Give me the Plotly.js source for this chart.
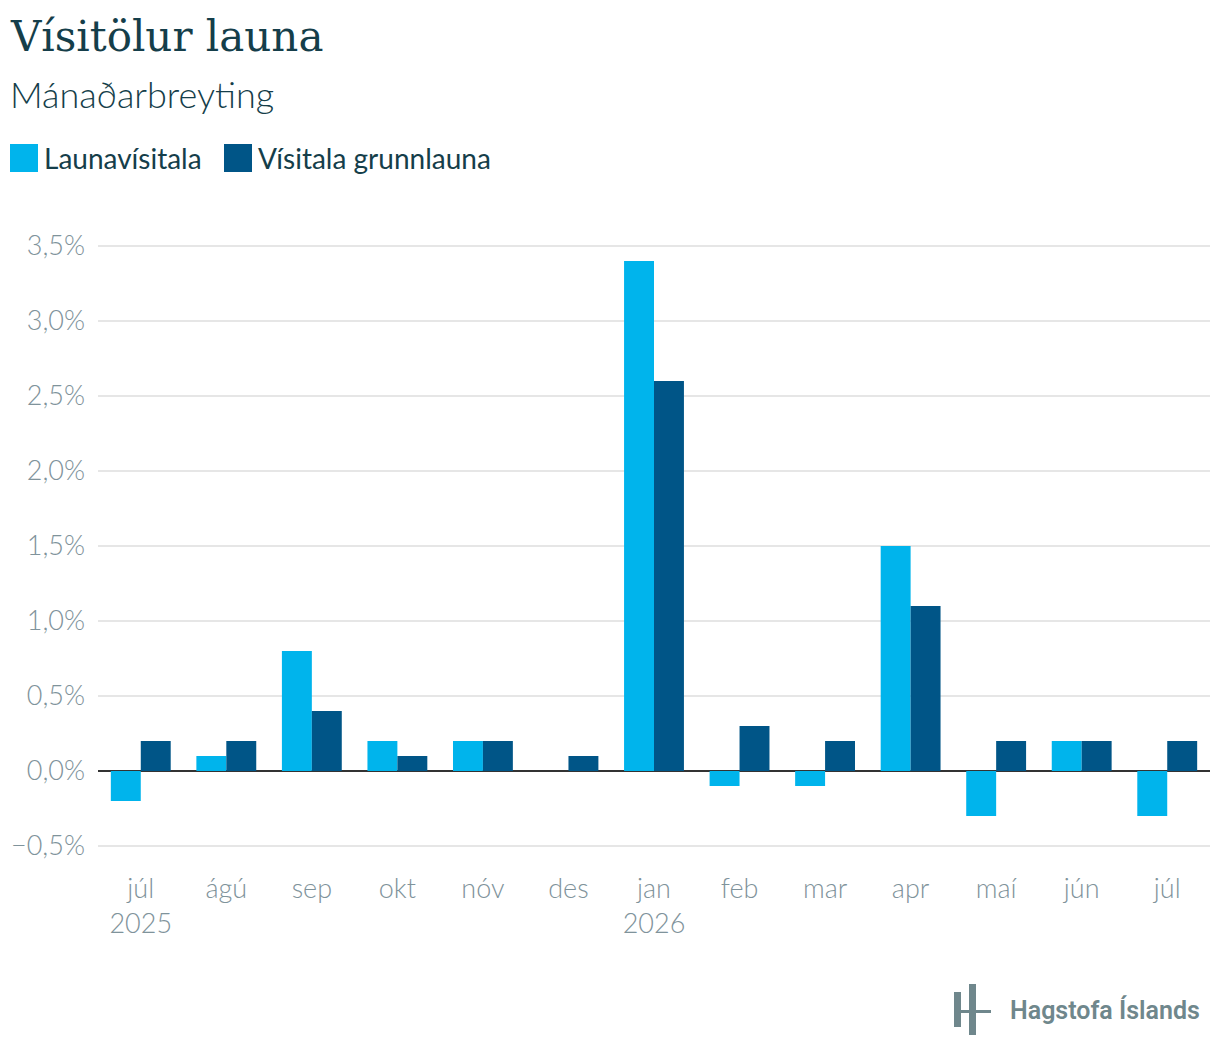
<!DOCTYPE html>
<html>
<head>
<meta charset="utf-8">
<script src="https://cdn.plot.ly/plotly-3.0.1.min.js"></script>
<style>
html,body{margin:0;padding:0;background:#fff;}
#chart{width:1220px;height:1060px;}
</style>
</head>
<body>
<div id="chart"></div>
<script>
// ---- data ----
const periods = ["2025-07","2025-08","2025-09","2025-10","2025-11","2025-12","2026-01","2026-02","2026-03","2026-04","2026-05","2026-06","2026-07"];
const monthLabels = ["júl<br>2025","ágú","sep","okt","nóv","des","jan<br>2026","feb","mar","apr","maí","jún","júl"];
const launavisitala = [-0.2, 0.1, 0.8, 0.2, 0.2, 0.0, 3.4, -0.1, -0.1, 1.5, -0.3, 0.2, -0.3];
const grunnlaun = [0.2, 0.2, 0.4, 0.1, 0.2, 0.1, 2.6, 0.3, 0.2, 1.1, 0.2, 0.2, 0.2];
const seriesNames = ["Launavísitala", "Vísitala grunnlauna"];
const tickVals = [-0.5, 0, 0.5, 1, 1.5, 2, 2.5, 3, 3.5];
const tickText = ["−0,5%", "0,0%", "0,5%", "1,0%", "1,5%", "2,0%", "2,5%", "3,0%", "3,5%"];

const C1 = "#00b4ec", C2 = "#005587";
const TITLE_C = "#153e4a", TICK_C = "#7f939b";

// pixel -> paper helpers for decoration placement
const L = 98, R = 1210, T = 231, B = 861;
const px = x => (x - L) / (R - L);
const py = y => (B - y) / (B - T);

const traces = [
  {type:"bar", name:seriesNames[0], x:periods, y:launavisitala, marker:{color:C1}, hoverinfo:"x+y"},
  {type:"bar", name:seriesNames[1], x:periods, y:grunnlaun, marker:{color:C2}, hoverinfo:"x+y"}
];

const layout = {
  width:1220, height:1060,
  margin:{l:L, r:1220-R, t:T, b:1060-B},
  paper_bgcolor:"#fff", plot_bgcolor:"#fff",
  showlegend:false,
  barmode:"group", bargap:0.3, bargroupgap:0,
  font:{family:"Lato, sans-serif", color:TICK_C, size:24},
  xaxis:{
    type:"category", tickangle:0, showgrid:false, zeroline:false, showline:false,
    tickmode:"array", tickvals:periods, ticktext:monthLabels,
    ticks:"", ticklabelstandoff:9,
    tickfont:{family:"Lato, sans-serif", size:27, color:TICK_C, weight:300}
  },
  yaxis:{
    range:[-0.6, 3.6], tickvals:tickVals, ticktext:tickText,
    showgrid:true, gridcolor:"#e6e6e6", gridwidth:2,
    zeroline:true, zerolinecolor:"#333333", zerolinewidth:2,
    ticks:"", ticklabelstandoff:12, showline:false,
    tickfont:{family:"Lato, sans-serif", size:27, color:TICK_C, weight:300}
  },
  shapes:[
    {type:"rect", xref:"paper", yref:"paper", x0:px(10), x1:px(38), y0:py(144), y1:py(172), fillcolor:C1, line:{width:0}},
    {type:"rect", xref:"paper", yref:"paper", x0:px(224), x1:px(252), y0:py(144), y1:py(172), fillcolor:C2, line:{width:0}},
    // logo
    {type:"rect", xref:"paper", yref:"paper", x0:px(954), x1:px(961), y0:py(992), y1:py(1027), fillcolor:"#6f878c", line:{width:0}},
    {type:"rect", xref:"paper", yref:"paper", x0:px(969), x1:px(976), y0:py(984), y1:py(1035), fillcolor:"#6f878c", line:{width:0}},
    {type:"rect", xref:"paper", yref:"paper", x0:px(954), x1:px(991), y0:py(1010), y1:py(1013), fillcolor:"#6f878c", line:{width:0}}
  ],
  annotations:[
    {xref:"paper", yref:"paper", x:px(8), y:py(36), xanchor:"left", yanchor:"middle", showarrow:false,
     text:"Vísitölur launa", font:{family:"'DejaVu Serif', serif", size:42, color:TITLE_C, weight:500}},
    {xref:"paper", yref:"paper", x:px(8), y:py(94), xanchor:"left", yanchor:"middle", showarrow:false,
     text:"Mánaðarbreyting", font:{family:"Lato, sans-serif", size:36, color:TITLE_C, weight:300}},
    {xref:"paper", yref:"paper", x:px(42), y:py(158), xanchor:"left", yanchor:"middle", showarrow:false,
     text:seriesNames[0], font:{family:"Lato, sans-serif", size:28, color:TITLE_C}},
    {xref:"paper", yref:"paper", x:px(256), y:py(158), xanchor:"left", yanchor:"middle", showarrow:false,
     text:seriesNames[1], font:{family:"Lato, sans-serif", size:28, color:TITLE_C}},
    {xref:"paper", yref:"paper", x:px(1008), y:py(1010), xanchor:"left", yanchor:"middle", showarrow:false,
     text:"Hagstofa Íslands", font:{family:"Roboto, sans-serif", size:25, color:"#6f878c", weight:600}}
  ]
};

Plotly.newPlot("chart", traces, layout, {displayModeBar:false, staticPlot:true});
</script>
</body>
</html>
